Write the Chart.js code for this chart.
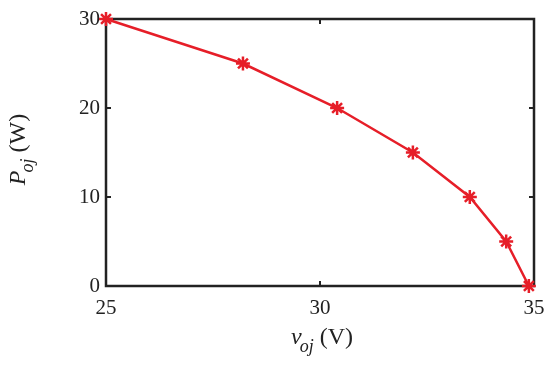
<!DOCTYPE html>
<html>
<head>
<style>
  html, body { margin: 0; padding: 0; background: #fff; }
  #wrap { width: 550px; height: 371px; }
</style>
</head>
<body>
<div id="wrap"><canvas id="chart" width="550" height="371"></canvas></div>
<script src="https://cdn.jsdelivr.net/npm/chart.js"></script>
<script>
// values
const voltage = [25, 28.2, 30.4, 32.17, 33.5, 34.35, 34.88]; // v_oj (V)
const power   = [30, 25, 20, 15, 10, 5, 0];                  // P_oj (W)
const xTicks = [25, 30, 35];
const yTicks = [0, 10, 20, 30];

const red = "rgb(230, 30, 40)";
const ink = "#222";
const serif = "'Liberation Serif', 'Times New Roman', serif";

const points = voltage.map((v, i) => ({ x: v, y: power[i] }));

// frame, inward ticks and subscripted axis titles
const framePlugin = {
    id: "frame",
    beforeDatasetsDraw(chart) {
        const { ctx, chartArea: a, scales } = chart;
        ctx.save();
        ctx.strokeStyle = ink;
        ctx.lineWidth = 2.5;
        ctx.strokeRect(a.left, a.top, a.right - a.left, a.bottom - a.top);
        ctx.lineWidth = 2;
        const len = 5;
        xTicks.slice(1, -1).forEach(t => {
            const px = scales.x.getPixelForValue(t);
            ctx.beginPath();
            ctx.moveTo(px, a.bottom); ctx.lineTo(px, a.bottom - len);
            ctx.moveTo(px, a.top); ctx.lineTo(px, a.top + len);
            ctx.stroke();
        });
        yTicks.slice(1, -1).forEach(t => {
            const py = scales.y.getPixelForValue(t);
            ctx.beginPath();
            ctx.moveTo(a.left, py); ctx.lineTo(a.left + len, py);
            ctx.moveTo(a.right, py); ctx.lineTo(a.right - len, py);
            ctx.stroke();
        });
        ctx.restore();
    },
    afterDraw(chart) {
        const { ctx, chartArea: a } = chart;
        const mainFont = "italic 24px " + serif;
        const subFont = "italic 18px " + serif;
        const unitFont = "24px " + serif;
        ctx.save();
        ctx.fillStyle = ink;
        ctx.textBaseline = "alphabetic";

        const title = (main, sub, rest, cx, by) => {
            ctx.font = mainFont;
            const w1 = ctx.measureText(main).width - 2;
            ctx.font = subFont;
            const w2 = ctx.measureText(sub).width;
            ctx.font = unitFont;
            const w3 = ctx.measureText(rest).width;
            const x0 = cx - (w1 + w2 + w3) / 2;
            ctx.font = mainFont;
            ctx.fillText(main, x0, by);
            ctx.font = subFont;
            ctx.fillText(sub, x0 + w1, by + 8);
            ctx.font = unitFont;
            ctx.fillText(rest, x0 + w1 + w2, by);
        };

        // x title: v_oj (V)
        title("v", "oj", " (V)", (a.left + a.right) / 2 + 2, 344);

        // y title: P_oj (W)
        ctx.translate(25, (a.top + a.bottom) / 2);
        ctx.rotate(-Math.PI / 2);
        title("P", "oj", " (W)", 3, 0);
        ctx.restore();
    }
};

const ctx = document.getElementById("chart").getContext("2d");
const chart = new Chart(ctx, {
    type: "scatter",
    data: {
        datasets: [{
            data: points,
            showLine: true,
            borderColor: red,
            backgroundColor: red,
            borderWidth: 2.5,
            pointStyle: "star",
            pointRadius: 7,
            pointBorderWidth: 2.5,
            pointBorderColor: red,
            pointHoverRadius: 7,
            clip: false
        }]
    },
    options: {
        responsive: false,
        animation: false,
        events: [],
        layout: { padding: { left: 0, top: 19, right: 16, bottom: 0 } },
        plugins: {
            legend: { display: false },
            tooltip: { enabled: false }
        },
        scales: {
            x: {
                type: "linear",
                min: 25,
                max: 35,
                afterBuildTicks: s => { s.ticks = xTicks.map(v => ({ value: v })); },
                afterFit: s => { s.height = 85; s.paddingLeft = 0; s.paddingRight = 0; },
                grid: { display: false, drawTicks: false },
                border: { display: false },
                ticks: { color: ink, padding: 10, font: { family: serif, size: 21 } }
            },
            y: {
                type: "linear",
                min: 0,
                max: 30,
                afterBuildTicks: s => { s.ticks = yTicks.map(v => ({ value: v })); },
                afterFit: s => { s.width = 106; s.paddingTop = 0; s.paddingBottom = 0; },
                grid: { display: false, drawTicks: false },
                border: { display: false },
                ticks: { color: ink, padding: 6, font: { family: serif, size: 21 } }
            }
        }
    },
    plugins: [framePlugin]
});
</script>
</body>
</html>
